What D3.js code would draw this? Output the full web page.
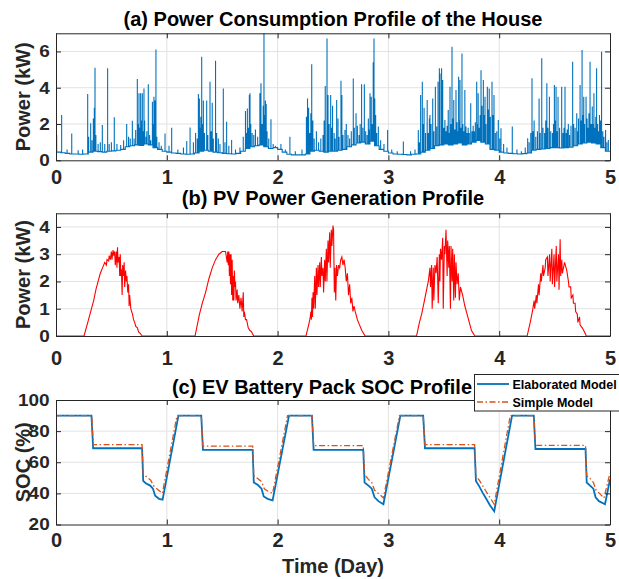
<!DOCTYPE html>
<html><head><meta charset="utf-8">
<script src="https://cdn.jsdelivr.net/npm/d3@7"></script>
<style>
body{margin:0;background:#fff;}
svg{display:block;}
text{font-family:"Liberation Sans",Arial,Helvetica,sans-serif;font-weight:bold;}
</style></head><body>
<svg id="chart" width="619" height="579"></svg>
<script>
// ---------------- DATA ----------------
const dayTicks = [0, 1, 2, 3, 4, 5];
const powerTicks = [0, 2, 4, 6];
const pvTicks = [0, 1, 2, 3, 4];
const socTicks = [20, 40, 60, 80, 100];

const titles = ["(a) Power Consumption Profile of the House", "(b) PV Power Generation Profile", "(c) EV Battery Pack SOC Profile"];
const legendLabels = ["Elaborated Model", "Simple Model"];

// house load: hourly base level (kW), hours 0..120
const baseHourly = [
  0.45,0.42,0.38,0.35,0.35,0.33,0.35,0.45,0.5,0.48,0.45,0.5,0.52,0.55,0.6,0.75,0.8,0.85,0.82,0.9,0.85,0.7,0.6,0.5,
  0.45,0.4,0.38,0.35,0.33,0.35,0.4,0.5,0.55,0.5,0.45,0.42,0.38,0.36,0.35,0.38,0.5,0.65,0.75,0.8,0.85,0.75,0.65,0.7,
  0.6,0.45,0.33,0.3,0.3,0.3,0.35,0.5,0.55,0.5,0.45,0.5,0.5,0.55,0.6,0.75,0.85,0.95,1.0,0.9,1.05,0.8,0.6,0.5,
  0.4,0.35,0.33,0.32,0.3,0.33,0.35,0.45,0.55,0.65,0.8,0.85,0.9,0.85,0.9,0.95,0.85,0.9,1.0,1.1,1.0,0.9,0.6,0.55,
  0.45,0.4,0.38,0.36,0.35,0.37,0.4,0.55,0.6,0.62,0.65,0.7,0.7,0.68,0.7,0.72,0.8,0.9,0.95,1.0,0.95,0.9,0.7,0.5,
  0.5
];
// house load spikes [day, peak kW]
const loadSpikes = [
  [0.006,1.39],[0.051,2.5],[0.1,0.6],[0.142,1.48],[0.2,0.55],[0.24,0.6],[0.286,3.66],[0.295,1.3],[0.313,2.04],[0.325,1.1],[0.337,2.31],[0.346,2.9],[0.352,5.1],[0.36,1.4],[0.38,0.9],[0.4,1.0],[0.418,1.94],[0.44,0.9],[0.466,5.07],[0.48,0.9],[0.5,1.0],[0.526,2.37],[0.55,0.9],[0.584,0.84],[0.61,1.1],[0.638,2.0],[0.655,1.3],[0.67,1.2],[0.689,2.18],[0.705,1.2],[0.719,1.67],[0.734,4.48],[0.742,2.0],[0.749,3.7],[0.757,1.8],[0.764,3.69],[0.772,2.2],[0.779,3.69],[0.787,1.6],[0.794,3.96],[0.8,2.2],[0.812,1.3],[0.82,1.6],[0.833,4.19],[0.845,1.4],[0.855,1.1],[0.87,3.23],[0.878,2.0],[0.884,3.5],[0.893,3.3],[0.902,6.11],[0.91,1.3],[0.93,1.0],[0.95,0.8],[0.984,1.48],
  [1.02,0.8],[1.044,1.8],[1.1,0.6],[1.15,0.7],[1.18,1.06],[1.21,1.81],[1.24,1.0],[1.26,1.5],[1.275,1.2],[1.285,3.66],[1.294,3.4],[1.3,1.8],[1.307,2.4],[1.315,5.71],[1.322,2.0],[1.33,3.3],[1.34,1.5],[1.36,3.3],[1.37,1.4],[1.39,4.33],[1.4,1.6],[1.41,3.17],[1.42,1.2],[1.44,5.49],[1.45,1.5],[1.465,1.2],[1.48,0.9],[1.51,3.96],[1.525,1.0],[1.54,2.13],[1.56,0.8],[1.585,1.12],[1.62,0.6],[1.66,0.7],[1.69,1.3],[1.71,2.72],[1.72,1.5],[1.727,2.86],[1.737,1.8],[1.745,3.6],[1.751,3.7],[1.758,2.0],[1.77,1.5],[1.785,1.4],[1.8,1.7],[1.82,1.3],[1.84,3.69],[1.85,4.24],[1.86,2.0],[1.87,3.0],[1.877,7.0],[1.883,2.5],[1.89,3.3],[1.897,3.1],[1.905,1.6],[1.92,1.2],[1.94,2.26],[1.96,0.9],[1.98,0.8],
  [2.03,0.9],[2.07,0.6],[2.111,1.3],[2.16,0.5],[2.22,0.6],[2.26,2.4],[2.27,3.41],[2.28,2.9],[2.29,1.5],[2.3,2.6],[2.308,5.29],[2.318,2.2],[2.33,1.2],[2.35,1.6],[2.37,1.0],[2.39,1.2],[2.41,1.4],[2.42,2.2],[2.43,4.1],[2.446,6.72],[2.455,3.6],[2.465,2.0],[2.479,3.6],[2.488,1.8],[2.496,3.0],[2.51,1.5],[2.52,1.2],[2.533,3.32],[2.545,2.3],[2.555,1.3],[2.572,4.39],[2.58,3.6],[2.59,1.4],[2.608,1.67],[2.62,2.0],[2.635,1.4],[2.65,1.2],[2.665,1.6],[2.683,4.51],[2.692,1.8],[2.708,2.6],[2.72,1.9],[2.735,1.4],[2.745,2.0],[2.758,4.19],[2.77,1.8],[2.783,4.19],[2.795,1.6],[2.808,1.4],[2.819,2.31],[2.827,1.7],[2.834,3.69],[2.845,3.5],[2.855,2.0],[2.863,5.4],[2.87,6.72],[2.877,3.4],[2.885,2.5],[2.895,1.5],[2.909,1.86],[2.93,1.1],[2.96,0.9],[2.993,1.67],
  [3.03,0.6],[3.08,0.5],[3.135,1.03],[3.2,0.5],[3.24,0.6],[3.27,1.67],[3.28,1.0],[3.291,3.6],[3.306,4.33],[3.315,2.0],[3.322,2.9],[3.335,1.5],[3.35,3.32],[3.36,1.5],[3.37,2.3],[3.375,2.5],[3.385,2.0],[3.4,3.41],[3.41,1.6],[3.424,4.06],[3.436,1.86],[3.448,4.33],[3.46,5.07],[3.466,4.79],[3.48,5.07],[3.49,4.43],[3.5,1.8],[3.51,2.22],[3.52,1.6],[3.53,1.9],[3.54,2.77],[3.548,1.5],[3.556,4.06],[3.564,2.0],[3.574,6.26],[3.582,2.3],[3.59,3.32],[3.6,1.7],[3.61,3.87],[3.62,2.1],[3.628,1.6],[3.634,4.61],[3.64,2.2],[3.646,4.43],[3.655,1.8],[3.664,5.89],[3.672,2.0],[3.68,1.6],[3.69,3.87],[3.7,1.86],[3.71,1.5],[3.72,1.8],[3.73,1.5],[3.743,3.14],[3.755,1.6],[3.765,1.9],[3.775,1.6],[3.785,2.1],[3.797,4.33],[3.805,2.0],[3.81,3.69],[3.82,1.8],[3.828,2.5],[3.836,4.97],[3.845,3.0],[3.857,4.43],[3.865,2.5],[3.872,3.5],[3.88,2.0],[3.893,4.06],[3.9,2.8],[3.91,3.96],[3.92,2.4],[3.935,4.33],[3.945,2.5],[3.953,3.6],[3.965,1.5],[3.978,1.6],[3.992,2.22],[4.005,1.2],[4.016,1.76],[4.04,0.9],[4.07,0.7],
  [4.118,1.86],[4.16,0.6],[4.2,0.5],[4.235,0.7],[4.257,1.22],[4.27,1.0],[4.285,1.5],[4.296,4.52],[4.305,1.6],[4.315,2.2],[4.33,1.3],[4.345,1.6],[4.36,3.41],[4.37,1.5],[4.384,5.62],[4.395,1.8],[4.41,1.5],[4.42,2.2],[4.43,4.24],[4.44,1.8],[4.453,3.5],[4.465,1.6],[4.48,1.5],[4.49,2.0],[4.498,4.15],[4.505,2.2],[4.513,4.06],[4.522,1.6],[4.531,3.5],[4.545,1.8],[4.564,4.06],[4.575,1.5],[4.585,1.8],[4.594,4.06],[4.605,1.5],[4.614,1.7],[4.624,2.0],[4.635,1.4],[4.648,1.9],[4.663,5.43],[4.672,2.0],[4.685,1.8],[4.7,2.59],[4.708,1.6],[4.716,2.3],[4.73,4.15],[4.738,2.2],[4.748,6.08],[4.755,2.5],[4.763,3.5],[4.77,2.0],[4.784,3.5],[4.793,2.3],[4.8,1.8],[4.81,2.6],[4.82,5.43],[4.83,2.0],[4.84,2.96],[4.848,2.0],[4.855,3.69],[4.865,1.8],[4.872,2.4],[4.879,5.07],[4.888,2.0],[4.897,1.6],[4.905,2.5],[4.915,2.2],[4.924,5.98],[4.935,1.6],[4.945,1.3],[4.96,1.67],[4.972,1.0],[4.985,1.12]
];

// PV generation [day, kW]
const pvPoints = [
  [0,0],[0.253,0],[0.28,0.4],[0.31,0.85],[0.34,1.3],[0.36,1.7],[0.38,2.0],[0.4,2.3],[0.42,2.5],[0.44,2.7],[0.455,2.6],[0.46,2.8],[0.475,2.75],[0.48,2.95],[0.49,2.8],[0.5,3.1],[0.505,2.8],[0.515,3.15],[0.52,2.95],[0.53,3.1],[0.535,2.6],[0.545,3.1],[0.55,2.5],[0.555,3.25],[0.56,2.7],[0.57,2.9],[0.575,2.2],[0.58,3.0],[0.585,2.2],[0.59,2.45],[0.597,1.5],[0.602,2.6],[0.61,2.2],[0.615,2.7],[0.62,1.8],[0.628,2.4],[0.635,2.0],[0.64,2.2],[0.648,1.6],[0.655,1.9],[0.66,1.1],[0.665,1.5],[0.675,1.0],[0.69,0.8],[0.7,0.6],[0.71,0.5],[0.72,0.35],[0.735,0.3],[0.745,0.15],[0.76,0.1],[0.777,0],
  [1.255,0],[1.28,0.5],[1.295,0.8],[1.32,1.2],[1.35,1.6],[1.38,2.1],[1.41,2.5],[1.44,2.8],[1.47,3.0],[1.5,3.1],[1.53,3.1],[1.545,2.7],[1.55,3.1],[1.555,2.6],[1.56,3.1],[1.565,2.2],[1.57,3.0],[1.575,1.9],[1.58,3.0],[1.585,1.5],[1.59,2.8],[1.595,1.3],[1.6,2.2],[1.605,1.3],[1.61,2.4],[1.615,1.8],[1.62,2.0],[1.625,1.3],[1.635,1.7],[1.64,1.2],[1.65,1.5],[1.66,1.0],[1.67,1.4],[1.68,0.9],[1.69,1.6],[1.695,0.7],[1.7,0.9],[1.71,0.6],[1.72,0.6],[1.735,0.3],[1.75,0.2],[1.765,0.15],[1.785,0],
  [2.256,0],[2.28,0.4],[2.295,0.7],[2.3,0.9],[2.305,0.6],[2.31,1.4],[2.315,0.7],[2.32,1.6],[2.325,1.0],[2.335,2.2],[2.34,1.0],[2.35,2.5],[2.355,1.5],[2.365,2.6],[2.37,1.8],[2.38,2.7],[2.385,1.8],[2.395,2.9],[2.4,2.2],[2.41,2.5],[2.415,1.6],[2.425,2.8],[2.43,2.0],[2.44,3.2],[2.445,2.0],[2.455,3.5],[2.46,2.7],[2.47,3.8],[2.475,2.5],[2.485,3.9],[2.49,3.3],[2.5,4.05],[2.505,3.9],[2.512,1.6],[2.518,2.5],[2.525,1.3],[2.532,2.6],[2.54,2.2],[2.55,2.6],[2.56,2.5],[2.57,2.8],[2.58,2.9],[2.59,2.6],[2.6,2.8],[2.61,2.5],[2.62,2.0],[2.63,2.3],[2.64,1.5],[2.65,1.9],[2.66,1.2],[2.67,1.4],[2.68,0.9],[2.69,1.1],[2.7,0.9],[2.72,0.6],[2.74,0.4],[2.76,0.2],[2.79,0],
  [3.254,0],[3.28,0.5],[3.3,0.8],[3.32,1.2],[3.34,1.6],[3.36,2.0],[3.375,2.5],[3.38,1.8],[3.39,2.6],[3.395,1.0],[3.405,2.5],[3.41,1.3],[3.42,2.6],[3.43,2.3],[3.44,2.9],[3.45,1.2],[3.46,3.0],[3.465,2.0],[3.47,3.2],[3.48,2.8],[3.49,3.6],[3.495,1.0],[3.505,3.3],[3.51,3.0],[3.52,3.9],[3.53,2.2],[3.535,3.5],[3.545,2.5],[3.55,3.3],[3.56,1.0],[3.565,3.3],[3.575,2.0],[3.58,3.2],[3.59,1.3],[3.595,3.0],[3.605,1.4],[3.61,2.7],[3.62,1.9],[3.63,2.3],[3.64,1.3],[3.65,1.8],[3.67,1.5],[3.69,1.1],[3.71,0.8],[3.73,0.5],[3.75,0.2],[3.78,0],
  [4.252,0],[4.28,0.5],[4.3,0.9],[4.315,1.3],[4.32,1.0],[4.335,1.5],[4.34,1.2],[4.355,1.9],[4.36,1.5],[4.375,2.3],[4.38,2.0],[4.395,2.6],[4.4,2.2],[4.415,2.5],[4.42,2.8],[4.435,2.9],[4.44,2.2],[4.455,3.0],[4.46,2.0],[4.475,3.2],[4.48,1.9],[4.495,3.0],[4.5,1.8],[4.515,3.3],[4.52,2.0],[4.535,3.0],[4.54,1.7],[4.55,3.55],[4.555,2.2],[4.565,2.8],[4.57,2.3],[4.59,2.7],[4.61,2.4],[4.625,2.0],[4.63,1.8],[4.645,1.8],[4.65,1.4],[4.665,1.5],[4.67,1.2],[4.685,1.2],[4.69,0.9],[4.705,0.8],[4.71,0.5],[4.725,0.7],[4.73,0.4],[4.75,0.3],[4.77,0.15],[4.786,0],[5,0]
];

// SOC (%) [day, value]
const socElaborated = [
  [0,90],[0.32,90],[0.335,69],[0.777,69],[0.787,48],[0.81,46.5],[0.85,45],[0.875,43],[0.895,38.5],[0.93,36.5],[0.962,36],[1.105,90],
  [1.311,90],[1.326,68],[1.775,68],[1.785,47],[1.82,45.5],[1.855,43],[1.875,38],[1.91,36.5],[1.955,35.5],[2.103,90],
  [2.31,90],[2.325,68],[2.773,68],[2.785,47],[2.82,45],[2.85,43],[2.875,37.5],[2.91,35],[2.955,33],[3.108,90],
  [3.314,90],[3.33,69],[3.778,69],[3.79,48],[3.82,44.5],[3.85,40.5],[3.875,37.5],[3.915,32.5],[3.955,28.5],[4.116,90],
  [4.312,90],[4.327,68.5],[4.779,68.5],[4.79,47],[4.82,45],[4.85,43],[4.87,37.5],[4.9,35],[4.955,33],[5.0,49]
];
const socSimple = [
  [0,90],[0.322,90],[0.337,71.3],[0.777,71.3],[0.787,52.4],[0.82,50.5],[0.855,48.5],[0.88,45],[0.91,43],[0.935,41.5],[0.96,40],[1.092,90],
  [1.311,90],[1.326,70.4],[1.775,70.4],[1.785,51.5],[1.82,49.5],[1.855,47.5],[1.88,43],[1.91,41.5],[1.955,40],[2.09,90],
  [2.31,90],[2.325,70.7],[2.773,70.7],[2.785,52],[2.82,49],[2.85,47],[2.875,42],[2.91,40],[2.955,37],[3.1,90],
  [3.314,90],[3.33,71.3],[3.778,71.3],[3.79,51],[3.82,48.5],[3.85,45],[3.875,42],[3.915,37.5],[3.955,33],[4.1,90],
  [4.312,90],[4.327,70.8],[4.779,70.8],[4.79,51.5],[4.82,49.5],[4.85,47],[4.875,42],[4.905,40],[4.945,37],[5.0,53]
];

// ---------------- DRAW ----------------
const svg = d3.select("#chart");
const AX = "#262626", GRID = "#e2e2e2";
const X0 = 56, X1 = 610;
const x = d3.scaleLinear().domain([0, 5]).range([X0, X1]);
const FONT = '"Liberation Sans",Arial,sans-serif';

const panels = [
  {key:"a", top:33.3, bottom:160.3, domain:[0,7], ticks:powerTicks, ylabel:"Power (kW)", title:titles[0], titleX:333, titleY:25.5, xpad:10},
  {key:"b", top:213.3, bottom:336, domain:[0,4.5], ticks:pvTicks, ylabel:"Power (kW)", title:titles[1], titleX:333, titleY:205, xpad:15},
  {key:"c", top:400, bottom:524.5, domain:[20,100], ticks:socTicks, ylabel:"SOC (%)", title:titles[2], titleX:322, titleY:394, xpad:8}
];

panels.forEach(p => {
  const y = d3.scaleLinear().domain(p.domain).range([p.bottom, p.top]);
  p.y = y;
  const g = svg.append("g");
  p.g = g;
  g.append("g").selectAll("line").data(dayTicks.slice(1, -1)).join("line")
    .attr("x1", d => x(d)).attr("x2", d => x(d)).attr("y1", p.top).attr("y2", p.bottom)
    .attr("stroke", GRID).attr("stroke-width", 1);
  g.append("g").selectAll("line").data(p.ticks.filter(t => t > p.domain[0] && t < p.domain[1])).join("line")
    .attr("x1", X0).attr("x2", X1).attr("y1", d => y(d)).attr("y2", d => y(d))
    .attr("stroke", GRID).attr("stroke-width", 1);
  svg.append("clipPath").attr("id", "clip" + p.key).append("rect")
    .attr("x", X0).attr("y", p.top).attr("width", X1 - X0).attr("height", p.bottom - p.top);
  p.dataG = g.append("g").attr("clip-path", `url(#clip${p.key})`);
});

// (a) house load series built from hourly base + spikes
(function(){
  const p = panels[0];
  const pts = [];
  const sorted = loadSpikes.slice().sort((a, b) => a[0] - b[0]);
  let si = 0;
  for (let h = 0; h < 120; h++) {
    const b = baseHourly[h];
    pts.push([h / 24, b]);
    while (si < sorted.length && sorted[si][0] < (h + 1) / 24) {
      const [t, v] = sorted[si];
      pts.push([t, b], [t, v], [t, b]);
      si++;
    }
    pts.push([(h + 1) / 24, b]);
  }
  pts.push([5, baseHourly[120]]);
  const line = d3.line().x(d => x(d[0])).y(d => p.y(d[1]));
  p.dataG.append("path").attr("d", line(pts)).attr("fill", "none")
    .attr("stroke", "#0072BD").attr("stroke-width", 1.1);
})();

// (b) PV
(function(){
  const p = panels[1];
  const line = d3.line().x(d => x(d[0])).y(d => p.y(d[1]));
  p.dataG.append("path").attr("d", line(pvPoints)).attr("fill", "none")
    .attr("stroke", "#FF0000").attr("stroke-width", 1.1);
})();

// (c) SOC
(function(){
  const p = panels[2];
  const line = d3.line().x(d => x(d[0])).y(d => p.y(d[1]));
  p.dataG.append("path").attr("d", line(socElaborated)).attr("fill", "none")
    .attr("stroke", "#0072BD").attr("stroke-width", 1.8);
  p.dataG.append("path").attr("d", line(socSimple)).attr("fill", "none")
    .attr("stroke", "#D95319").attr("stroke-width", 1.3).attr("stroke-dasharray", "6,2.5,1.5,2.5");
})();

// axes
panels.forEach(p => {
  const g = p.g;
  const bottom = g.append("g").attr("transform", `translate(0,${p.bottom})`)
    .call(d3.axisBottom(x).tickValues(dayTicks).tickSize(-5).tickSizeOuter(0).tickPadding(p.xpad).tickFormat(d3.format("d")));
  bottom.selectAll("text").attr("font-size", 20).attr("fill", AX).style("font-family", FONT).style("font-weight", "bold");
  const top = g.append("g").attr("transform", `translate(0,${p.top})`)
    .call(d3.axisTop(x).tickValues(dayTicks).tickSize(-5).tickSizeOuter(0).tickFormat(""));
  const left = g.append("g").attr("transform", `translate(${X0},0)`)
    .call(d3.axisLeft(p.y).tickValues(p.ticks).tickSize(-5).tickSizeOuter(0).tickPadding(5.5).tickFormat(d3.format("d")));
  left.selectAll("text").attr("font-size", 16.5).attr("fill", AX).attr("transform", "scale(1.15,1)")
    .style("font-family", FONT).style("font-weight", "bold");
  const right = g.append("g").attr("transform", `translate(${X1},0)`)
    .call(d3.axisRight(p.y).tickValues(p.ticks).tickSize(-5).tickSizeOuter(0).tickFormat(""));
  [bottom, top, left, right].forEach(a => {
    a.select(".domain").attr("stroke", AX).attr("stroke-width", 1);
    a.selectAll(".tick line").attr("stroke", AX).attr("stroke-width", 1);
  });
  svg.append("text").attr("x", p.titleX).attr("y", p.titleY).attr("text-anchor", "middle")
    .attr("font-size", 20).attr("fill", "#000").text(p.title);
  const cy = (p.top + p.bottom) / 2;
  svg.append("text").attr("transform", `translate(29.5,${cy}) rotate(-90)`).attr("text-anchor", "middle")
    .attr("font-size", 20).attr("fill", AX).text(p.ylabel);
});

svg.append("text").attr("x", 333).attr("y", 573).attr("text-anchor", "middle")
  .attr("font-size", 20).attr("fill", AX).text("Time (Day)");

// legend
(function(){
  const lg = svg.append("g");
  lg.append("rect").attr("x", 474.5).attr("y", 374.5).attr("width", 160).attr("height", 36.5)
    .attr("fill", "#fff").attr("stroke", AX).attr("stroke-width", 1);
  const rows = [
    {label: legendLabels[0], color: "#0072BD", w: 1.8, dash: null, y: 384},
    {label: legendLabels[1], color: "#D95319", w: 1.3, dash: "6,2.5,1.5,2.5", y: 402}
  ];
  rows.forEach(r => {
    lg.append("line").attr("x1", 477).attr("x2", 509).attr("y1", r.y).attr("y2", r.y)
      .attr("stroke", r.color).attr("stroke-width", r.w).attr("stroke-dasharray", r.dash);
    lg.append("text").attr("x", 512.5).attr("y", r.y + 4.6).attr("font-size", 12.5).attr("fill", "#000").text(r.label);
  });
})();
</script>
</body></html>
